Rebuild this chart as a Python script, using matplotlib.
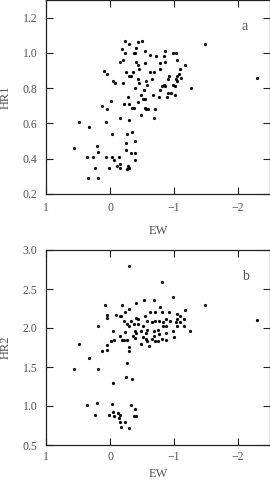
import numpy as np
import matplotlib.pyplot as plt

# panel a: EW vs HR1
ew_a = [-0.24, -0.50, -0.30, -0.44, -0.40, -0.18, -0.54, -0.23, -0.37, -0.39,
        -0.63, -0.72, -0.86, -0.85, -0.98, -1.03, -0.15, -0.20, -0.40, -0.55,
        -0.78, -0.86, -1.04, -1.17, -0.43, -0.45, -0.69, -0.78, 0.09, -1.09,
        0.05, -0.25, -0.30, -0.33, -0.36, -0.63, -0.92, -1.05, -1.08, -1.11,
        -0.04, -0.08, -0.21, -0.43, -0.45, -0.57, -0.65, -0.90, -1.03, -1.05,
        -0.39, -0.84, -0.86, -0.82, -0.98, -1.02, -0.78, -0.53, -0.58, -1.01,
        -1.26, -0.28, -0.48, -0.51, -0.55, -0.67, -0.77, -0.89, -0.95, -0.91,
        0.13, 0.05, -0.01, -0.22, -0.30, -0.38, -0.34, -0.44, -0.54, -0.57,
        -0.60, -0.70, -0.15, -0.30, -0.49, -0.68, 0.06, 0.49, 0.33, -0.03,
        -0.27, -0.34, 0.56, 0.21, 0.18, -0.25, -0.39, -0.25, -0.33, -0.39,
        0.36, 0.26, 0.06, -0.03, -0.06, -0.14, 0.02, -0.11, -0.15, -0.16,
        -0.26, -0.28, -0.30, -0.39, 0.23, 0.35, 0.19, -1.48, -2.30]
hr1 = [1.07, 1.07, 1.05, 1.06, 1.03, 1.02, 1.01, 1.00, 1.00, 1.00,
       0.99, 0.98, 1.01, 0.98, 1.00, 1.00, 0.95, 0.96, 0.95, 0.94,
       0.94, 0.95, 0.96, 0.93, 0.93, 0.91, 0.89, 0.91, 0.90, 0.91,
       0.88, 0.89, 0.87, 0.87, 0.89, 0.89, 0.87, 0.87, 0.88, 0.86,
       0.84, 0.83, 0.83, 0.85, 0.83, 0.84, 0.85, 0.85, 0.85, 0.84,
       0.80, 0.82, 0.81, 0.81, 0.82, 0.81, 0.79, 0.79, 0.82, 0.76,
       0.80, 0.75, 0.76, 0.74, 0.74, 0.76, 0.75, 0.75, 0.77, 0.77,
       0.70, 0.68, 0.73, 0.71, 0.71, 0.69, 0.69, 0.72, 0.69, 0.68,
       0.68, 0.68, 0.63, 0.62, 0.65, 0.63, 0.61, 0.61, 0.58, 0.54,
       0.54, 0.55, 0.46, 0.47, 0.44, 0.49, 0.50, 0.45, 0.43, 0.43,
       0.41, 0.41, 0.41, 0.41, 0.39, 0.41, 0.35, 0.36, 0.35, 0.37,
       0.34, 0.36, 0.35, 0.39, 0.35, 0.29, 0.29, 1.05, 0.86]

# panel b: EW vs HR2
ew_b = [-0.30, -0.82, -0.98, 0.08, -0.19, -0.53, -0.41, -0.69, -0.78, -1.48,
        -2.30, -1.17, -0.30, 0.05, 0.05, 0.19, -0.09, -0.15, -0.17, -0.23,
        -0.62, -0.71, -0.82, -0.92, -1.04, -1.10, -1.15, -1.05, -0.55, -0.41,
        -0.44, -0.58, -0.77, -0.83, -0.88, -1.03, -0.33, -0.22, -0.27, -0.37,
        -0.43, -0.51, -0.66, -0.71, -0.94, -1.09, -0.04, -0.23, -0.30, -0.39,
        -0.48, -0.58, -0.68, -0.75, -0.83, -0.88, -1.05, -1.15, -1.25, -0.41,
        -0.57, -0.68, -0.77, -0.87, -0.98, -0.15, -0.27, -0.36, -0.39, -0.51,
        -0.57, -0.65, -0.71, -0.75, -0.81, -0.88, -1.00, 0.49, 0.05, 0.05,
        0.13, -0.01, -0.07, -0.18, -0.22, -0.29, -0.30, -0.48, -0.61, -0.58,
        0.33, 0.19, 0.56, -0.27, -0.25, -0.34, -0.04, 0.36, 0.21, 0.23,
        -0.03, -0.04, 0.02, -0.06, -0.13, -0.15, -0.14, -0.15, -0.24, -0.30,
        -0.17, -0.33, -0.39, -0.38, -0.40]
hr2 = [2.79, 2.59, 2.40, 2.29, 2.29, 2.36, 2.32, 2.36, 2.27, 2.30,
       2.10, 2.23, 2.24, 2.17, 2.13, 2.02, 2.17, 2.16, 2.16, 2.21,
       2.20, 2.21, 2.20, 2.20, 2.18, 2.16, 2.12, 2.12, 2.16, 2.13,
       2.11, 2.09, 2.09, 2.08, 2.11, 2.08, 2.09, 2.09, 2.05, 2.05,
       2.05, 2.02, 2.08, 2.09, 2.09, 2.08, 1.96, 1.95, 2.02, 1.96,
       1.96, 1.97, 1.96, 1.98, 2.02, 2.02, 2.02, 2.02, 1.96, 1.93,
       1.93, 1.90, 1.92, 1.93, 1.96, 1.90, 1.84, 1.90, 1.87, 1.89,
       1.86, 1.86, 1.83, 1.83, 1.86, 1.84, 1.89, 1.79, 1.78, 1.72,
       1.71, 1.83, 1.84, 1.84, 1.84, 1.76, 1.71, 1.80, 1.77, 1.83,
       1.61, 1.48, 1.47, 1.55, 1.37, 1.35, 1.30, 1.01, 1.04, 0.88,
       1.02, 0.92, 0.88, 0.87, 0.91, 0.89, 0.85, 0.80, 0.79, 0.72,
       0.73, 1.01, 0.96, 0.87, 0.87]

W, H = 270, 484
fig = plt.figure(figsize=(W / 100, H / 100), dpi=100)
gray = '#555555'
font = dict(family='Liberation Serif', color=gray)

def panel(rect, x, y, ylim, yticks, ylabel, tag, xpad, xlpad):
    ax = fig.add_axes(rect)
    ax.plot(x, y, 'k.', markersize=4.6, markeredgewidth=0)
    ax.set_xlim(1, -2.5)
    ax.set_ylim(*ylim)
    ax.set_xticks([1, 0, -1, -2])
    ax.set_xticklabels(['1', '0', '\u22121', '\u22122'], **font, fontsize=8.5)
    ax.set_yticks(yticks)
    ax.set_yticklabels(['%.1f' % v for v in yticks], **font, fontsize=8.5)
    ax.tick_params(direction='in', length=5, width=0.8, top=True, right=True,
                   pad=6, colors='#222222', labelcolor=gray)
    ax.tick_params(axis='x', pad=xpad)
    for s in ax.spines.values():
        s.set_linewidth(0.9)
        s.set_color('#222222')
    ax.set_xlabel('EW', fontsize=9, labelpad=xlpad, **font)
    ax.set_ylabel(ylabel, fontsize=9, labelpad=8, **font)
    ax.text(0.875, 0.845, tag, transform=ax.transAxes, fontsize=10, **font)
    return ax

panel([46 / W, 1 - 194 / H, 224 / W, 194 / H], ew_a, hr1, (0.2, 1.3),
      [0.2, 0.4, 0.6, 0.8, 1.0, 1.2], 'HR1', 'a', 6, 8)
panel([46 / W, 1 - 445 / H, 224 / W, 195 / H], ew_b, hr2, (0.5, 3.0),
      [0.5, 1.0, 1.5, 2.0, 2.5, 3.0], 'HR2', 'b', 4, 4)

fig.savefig('out.png', dpi=100)
